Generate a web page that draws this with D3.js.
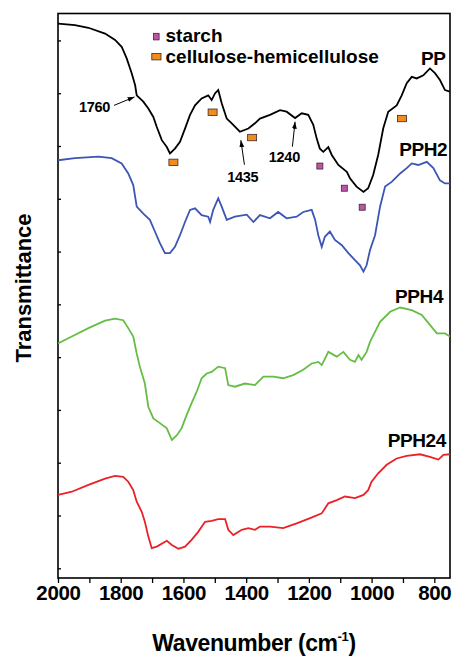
<!DOCTYPE html>
<html>
<head>
<meta charset="utf-8">
<script src="https://cdn.jsdelivr.net/npm/d3@7"></script>
<style>
  body { margin: 0; background: #fff; }
  svg { display: block; }
  text { font-family: "Liberation Sans", Arial, Helvetica, sans-serif; font-weight: bold; fill: #000; }
</style>
</head>
<body>
<svg id="chart" width="454" height="658"></svg>
<script>
// FTIR spectra, transmittance (arbitrary units, curves offset) vs wavenumber (cm-1)
const ppSpectrum = [
  [2000,10.32],[1946,10.29],[1903,10.24],[1850,10.13],[1818,10.01],[1797,9.88],[1781,9.66],
  [1765,9.38],[1754,9.15],[1749,8.96],[1728,8.84],[1712,8.71],[1696,8.55],[1685,8.36],
  [1669,8.11],[1653,7.98],[1643,7.86],[1627,7.95],[1611,8.08],[1595,8.33],[1579,8.59],
  [1563,8.77],[1542,8.90],[1521,8.96],[1510,8.87],[1499,9.00],[1489,9.06],[1478,8.81],
  [1462,8.52],[1446,8.43],[1420,8.27],[1393,8.33],[1372,8.43],[1356,8.52],[1324,8.59],
  [1292,8.68],[1271,8.65],[1244,8.53],[1223,8.62],[1202,8.59],[1186,8.40],[1175,8.14],
  [1165,7.95],[1154,7.89],[1138,7.98],[1127,7.83],[1106,7.64],[1079,7.51],[1069,7.39],
  [1048,7.23],[1026,7.13],[1011,7.20],[995,7.45],[979,7.83],[963,8.33],[947,8.65],
  [920,8.77],[904,8.96],[888,9.19],[872,9.31],[856,9.28],[835,9.34],[814,9.47],
  [798,9.38],[782,9.25],[766,9.06],[750,9.03]
];
const pph2Spectrum = [
  [2000,7.73],[1946,7.77],[1871,7.80],[1829,7.77],[1797,7.67],[1776,7.48],[1760,7.26],
  [1749,6.85],[1728,6.72],[1707,6.60],[1691,6.38],[1675,6.16],[1659,5.97],[1643,5.97],
  [1627,6.09],[1611,6.31],[1595,6.56],[1579,6.79],[1563,6.82],[1542,6.69],[1521,6.66],
  [1515,6.56],[1505,6.79],[1489,7.01],[1478,6.85],[1462,6.60],[1436,6.66],[1398,6.70],
  [1377,6.56],[1356,6.69],[1324,6.63],[1298,6.75],[1271,6.63],[1239,6.66],[1218,6.75],
  [1191,6.79],[1180,6.60],[1170,6.31],[1159,6.09],[1149,6.28],[1133,6.38],[1117,6.22],
  [1095,6.12],[1074,5.97],[1053,5.84],[1037,5.74],[1026,5.62],[1016,5.74],[1005,6.03],
  [989,6.31],[973,6.85],[957,7.23],[936,7.32],[909,7.48],[888,7.58],[872,7.67],
  [851,7.64],[824,7.70],[803,7.58],[782,7.35],[766,7.29],[750,7.29]
];
const pph4Spectrum = [
  [2000,4.26],[1956,4.39],[1903,4.55],[1850,4.69],[1818,4.73],[1792,4.70],[1776,4.55],
  [1760,4.39],[1749,4.07],[1739,3.82],[1723,3.50],[1712,3.06],[1696,2.84],[1675,2.75],
  [1653,2.65],[1637,2.43],[1621,2.52],[1606,2.65],[1590,2.90],[1574,3.13],[1558,3.34],
  [1542,3.60],[1526,3.69],[1510,3.72],[1489,3.82],[1467,3.79],[1457,3.47],[1436,3.44],
  [1404,3.50],[1372,3.47],[1345,3.63],[1313,3.63],[1282,3.60],[1250,3.66],[1218,3.76],
  [1191,3.88],[1170,3.91],[1159,3.85],[1138,4.10],[1111,4.01],[1090,4.10],[1069,3.95],
  [1053,3.91],[1042,4.04],[1032,3.95],[1016,4.10],[1005,4.29],[989,4.48],[973,4.67],
  [941,4.86],[909,4.94],[872,4.89],[840,4.80],[814,4.61],[792,4.45],[766,4.45],[750,4.39]
];
const pph24Spectrum = [
  [2000,1.39],[1956,1.45],[1903,1.58],[1850,1.70],[1818,1.75],[1792,1.73],[1776,1.64],
  [1760,1.48],[1749,1.26],[1733,1.07],[1723,0.88],[1712,0.60],[1701,0.38],[1685,0.41],
  [1653,0.52],[1637,0.44],[1616,0.37],[1595,0.41],[1574,0.54],[1553,0.69],[1531,0.88],
  [1510,0.90],[1489,0.93],[1467,0.93],[1457,0.73],[1441,0.63],[1414,0.73],[1393,0.76],
  [1372,0.73],[1356,0.79],[1324,0.79],[1282,0.76],[1239,0.85],[1196,0.95],[1159,1.04],
  [1138,1.23],[1111,1.29],[1085,1.36],[1053,1.33],[1026,1.39],[1011,1.48],[1000,1.64],
  [979,1.80],[952,1.96],[920,2.08],[888,2.13],[846,2.16],[814,2.11],[787,2.06],
  [771,2.15],[750,2.16]
];

const seriesNames = ["PP", "PPH2", "PPH4", "PPH24"];
const seriesColors = ["#000000", "#3b56b4", "#66bd45", "#ea2128"];
const seriesData = [ppSpectrum, pph2Spectrum, pph4Spectrum, pph24Spectrum];
// right end of each series label: [wavenumber, transmittance]
const seriesLabelPos = [[764, 9.53], [759, 7.81], [772, 5.02], [763, 2.30]];

// band assignments marked on the PP spectrum
const starchBands = [[1165, 7.62], [1087, 7.20], [1030, 6.84]];
const celluloseBands = [[1632, 7.69], [1507, 8.64], [1381, 8.16], [903, 8.52]];

// labelled peaks: text, arrow tip [wavenumber, transmittance]
const peakLabels = ["1760", "1435", "1240"];
const peakTips = [[1756, 8.93], [1417, 8.11], [1244, 8.46]];

const majorTicks = [2000, 1800, 1600, 1400, 1200, 1000, 800];
const minorTicks = [1900, 1700, 1500, 1300, 1100, 900];
const yTicks = [0, 1, 2, 3, 4, 5, 6, 7, 8, 9, 10];

const svg = d3.select("#chart");
const m = { left: 58, right: 450, top: 13.5, bottom: 578 };

const x = d3.scaleLinear().domain([2000, 750]).range([m.left, m.right]);
const y = d3.scaleLinear().domain([-0.184, 10.51]).range([m.bottom, m.top]);

const defs = svg.append("defs");
defs.append("clipPath").attr("id", "plotClip")
  .append("rect").attr("x", m.left).attr("y", m.top)
  .attr("width", m.right - m.left).attr("height", m.bottom - m.top);

// arrowhead marker
defs.append("marker")
  .attr("id", "arrowHead").attr("viewBox", "0 0 10 10")
  .attr("refX", 10).attr("refY", 5)
  .attr("markerWidth", 7).attr("markerHeight", 7)
  .attr("markerUnits", "userSpaceOnUse")
  .attr("orient", "auto")
  .append("path").attr("d", "M0,1.5 L10,5 L0,8.5 Z").attr("fill", "#000");

// x axis (ticks point outward)
const xAxis = d3.axisBottom(x).tickValues(majorTicks).tickSize(5).tickPadding(3).tickFormat(d3.format("d"));
const gx = svg.append("g").attr("transform", `translate(0,${m.bottom})`).call(xAxis);
gx.select(".domain").remove();
gx.selectAll(".tick line").attr("stroke", "#000").attr("stroke-width", 1.3);
gx.selectAll(".tick text").attr("font-size", 20.5).attr("dy", null).attr("y", 22)
  .style("font-family", "'Liberation Sans', Arial, sans-serif").style("font-weight", "bold").style("letter-spacing", "-0.3px");

const gxMinor = svg.append("g").attr("transform", `translate(0,${m.bottom})`)
  .call(d3.axisBottom(x).tickValues(minorTicks).tickSize(5).tickFormat(""));
gxMinor.select(".domain").remove();
gxMinor.selectAll(".tick line").attr("stroke", "#000").attr("stroke-width", 1.3);

// y axis (unlabelled ticks pointing inward)
const gy = svg.append("g").attr("transform", `translate(${m.left},0)`)
  .call(d3.axisRight(y).tickValues(yTicks).tickSize(3).tickFormat(""));
gy.select(".domain").remove();
gy.selectAll(".tick line").attr("stroke", "#000").attr("stroke-width", 1.3);

// frame
svg.append("rect").attr("x", m.left).attr("y", m.top)
  .attr("width", m.right - m.left).attr("height", m.bottom - m.top)
  .attr("fill", "none").attr("stroke", "#000").attr("stroke-width", 1.6);

// spectra
const line = d3.line().x(d => x(d[0])).y(d => y(d[1]));
const plot = svg.append("g").attr("clip-path", "url(#plotClip)");
seriesData.forEach((data, i) => {
  plot.append("path").datum(data)
    .attr("d", line)
    .attr("fill", "none")
    .attr("stroke", seriesColors[i])
    .attr("stroke-width", 1.8)
    .attr("stroke-linejoin", "miter");
});

// series labels
seriesNames.forEach((name, i) => {
  svg.append("text")
    .attr("x", x(seriesLabelPos[i][0])).attr("y", y(seriesLabelPos[i][1]))
    .attr("text-anchor", "end").attr("font-size", 19)
    .style("letter-spacing", "-0.4px")
    .text(name);
});

// band markers
const starchFill = "#c052ac", celluloseFill = "#f28b20";
svg.append("g").selectAll("rect").data(starchBands).join("rect")
  .attr("x", d => x(d[0]) - 3).attr("y", d => y(d[1]) - 3)
  .attr("width", 6).attr("height", 6)
  .attr("fill", starchFill).attr("stroke", "#3a2a2a").attr("stroke-width", 0.8);
svg.append("g").selectAll("rect").data(celluloseBands).join("rect")
  .attr("x", d => x(d[0]) - 4.5).attr("y", d => y(d[1]) - 3.2)
  .attr("width", 9).attr("height", 6.4)
  .attr("fill", celluloseFill).attr("stroke", "#3a2a2a").attr("stroke-width", 0.8);

// legend
const legend = svg.append("g");
legend.append("rect").attr("x", 153.5).attr("y", 33.3).attr("width", 5.6).attr("height", 6.6)
  .attr("fill", starchFill).attr("stroke", "#3a2a2a").attr("stroke-width", 0.8);
legend.append("rect").attr("x", 151.8).attr("y", 53.5).attr("width", 9.2).attr("height", 6.4)
  .attr("fill", celluloseFill).attr("stroke", "#3a2a2a").attr("stroke-width", 0.8);
legend.append("text").attr("x", 165.5).attr("y", 42.3).attr("font-size", 19).text("starch");
legend.append("text").attr("x", 165.5).attr("y", 63.3).attr("font-size", 19).text("cellulose-hemicellulose");

// peak annotations: arrow from label towards the band
const arrowOffsets = [[-20.5, 8.5], [3.6, 24.5], [-2.7, 25]];
const textOffsets = [[-4, 6.5, "end"], [-1.6, 17.2, "middle"], [-8, 15, "middle"]];
peakLabels.forEach((lab, i) => {
  const tx = x(peakTips[i][0]), ty = y(peakTips[i][1]);
  const sx = tx + arrowOffsets[i][0], sy = ty + arrowOffsets[i][1];
  svg.append("line").attr("x1", sx).attr("y1", sy).attr("x2", tx).attr("y2", ty)
    .attr("stroke", "#000").attr("stroke-width", 1).attr("marker-end", "url(#arrowHead)");
  svg.append("text").attr("x", sx + textOffsets[i][0]).attr("y", sy + textOffsets[i][1])
    .attr("text-anchor", textOffsets[i][2]).attr("font-size", 14.5)
    .style("letter-spacing", "-0.3px").text(lab);
});

// axis titles
svg.append("text")
  .attr("transform", `translate(31,288) rotate(-90)`)
  .attr("text-anchor", "middle").attr("font-size", 22).text("Transmittance");

const xt = svg.append("text").attr("x", (m.left + m.right) / 2).attr("y", 651)
  .attr("text-anchor", "middle").attr("font-size", 23).style("letter-spacing", "-0.4px");
xt.append("tspan").text("Wavenumber (cm");
xt.append("tspan").attr("font-size", 13).attr("dy", -10).text("-1");
xt.append("tspan").attr("dy", 10).text(")");
</script>
</body>
</html>
